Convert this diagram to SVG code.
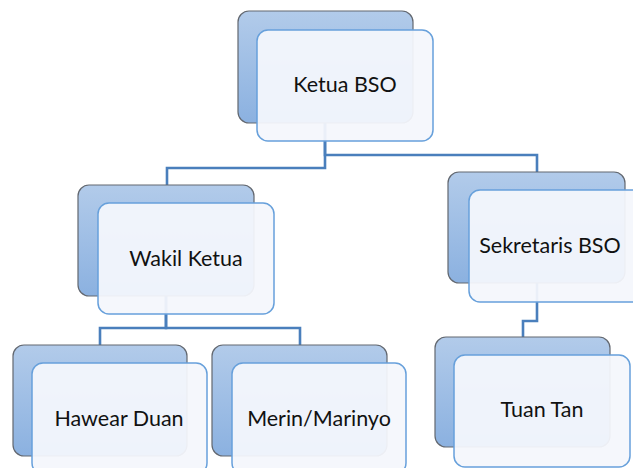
<svg xmlns="http://www.w3.org/2000/svg" width="633" height="468" viewBox="0 0 633 468">
<defs>
<linearGradient id="bg" x1="0" y1="0" x2="0" y2="1">
<stop offset="0" stop-color="#b2cbea"/>
<stop offset="1" stop-color="#8bb1e0"/>
</linearGradient>
<style>
.back{fill:url(#bg);stroke:#636870;stroke-width:1.2}
.front{fill:#f4f7fc;fill-opacity:0.94;stroke:#67a0db;stroke-width:1.5}
.lbl{font-family:Lato,"Liberation Sans",sans-serif;font-size:21.5px;fill:#111;text-anchor:middle}
.conn{fill:none;stroke:#4a7fbc;stroke-width:2.6}
</style>
</defs>
<rect width="633" height="468" fill="#ffffff"/>
<g id="connectors">
<path class="conn" d="M325,123 V168 H167 V185"/>
<path class="conn" d="M325,123 V155 H537 V172"/>
<path class="conn" d="M166,296 V328 H100 V345"/>
<path class="conn" d="M166,296 V328 H300 V345"/>
<path class="conn" d="M537,283 V321 H523 V337"/>
</g>
<g id="ketua">
<rect class="back" x="238" y="11" width="175" height="112" rx="11"/>
<rect class="front" x="257" y="30" width="176" height="111" rx="11"/>
<text class="lbl" x="345" y="92">Ketua BSO</text>
</g>
<g id="wakil">
<rect class="back" x="78" y="185" width="176" height="111" rx="11"/>
<rect class="front" x="98" y="203" width="176" height="111" rx="11"/>
<text class="lbl" x="186" y="266">Wakil Ketua</text>
</g>
<g id="sekretaris">
<rect class="back" x="448" y="172" width="177" height="111" rx="11"/>
<rect class="front" x="469" y="190" width="176" height="112" rx="11"/>
<text class="lbl" x="550" y="253">Sekretaris BSO</text>
</g>
<g id="hawear">
<rect class="back" x="13" y="345" width="174" height="111" rx="11"/>
<rect class="front" x="32" y="363" width="175" height="111" rx="11"/>
<text class="lbl" x="119" y="426">Hawear Duan</text>
</g>
<g id="merin">
<rect class="back" x="212" y="345" width="175" height="111" rx="11"/>
<rect class="front" x="232" y="363" width="174" height="111" rx="11"/>
<text class="lbl" x="319" y="426">Merin/Marinyo</text>
</g>
<g id="tuan">
<rect class="back" x="435" y="337" width="175" height="110" rx="11"/>
<rect class="front" x="454" y="355" width="176" height="112" rx="11"/>
<text class="lbl" x="542" y="417">Tuan Tan</text>
</g>
</svg>
